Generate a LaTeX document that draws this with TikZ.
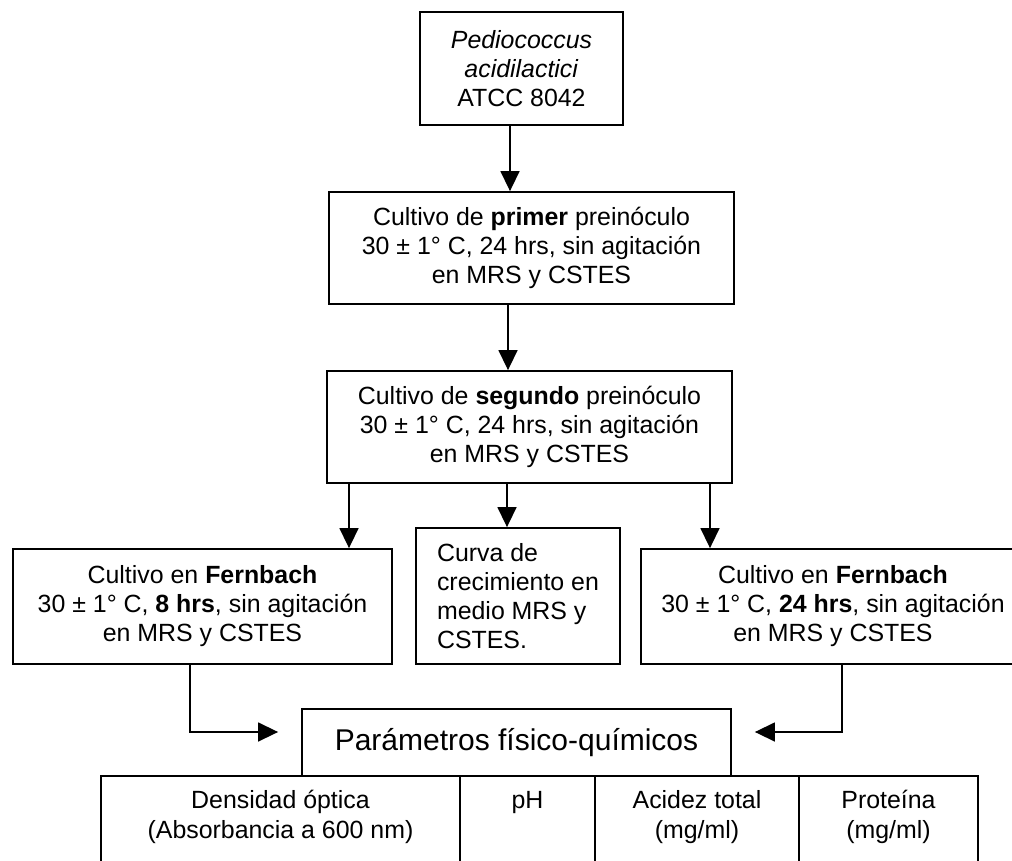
\documentclass[tikz,border=0pt]{standalone}
\usepackage{fontspec}
\setmainfont{Liberation Sans}
\usetikzlibrary{arrows.meta}
\tikzset{
  box/.style={draw, line width=1.8pt, align=center, inner sep=0pt,
    font=\fontsize{24.9}{29}\selectfont},
  cellbox/.style={draw, line width=1.8pt, inner sep=0pt},
  celltext/.style={align=center, inner sep=0pt, font=\fontsize{24.9}{30}\selectfont},
  conn/.style={line width=1.5pt, -{Triangle[length=20pt,width=19pt]}},
}
\begin{document}
\begin{tikzpicture}[x=1pt,y=-1pt]
\clip (0,0) rectangle (1012,861);
\fill[white] (0,0) rectangle (1012,861);

% boxes
\node[box, minimum width=203pt, minimum height=113pt] (src) at (521.5,68.5)
  {\textit{Pediococcus}\\\textit{acidilactici}\\ATCC 8042};
\node[box, minimum width=405pt, minimum height=112pt] (pre1) at (531.5,248)
  {Cultivo de \textbf{primer} preinóculo\\30 ± 1° C, 24 hrs, sin agitación\\en MRS y CSTES};
\node[box, minimum width=405pt, minimum height=112pt] (pre2) at (529.5,427)
  {Cultivo de \textbf{segundo} preinóculo\\30 ± 1° C, 24 hrs, sin agitación\\en MRS y CSTES};
\node[box, minimum width=379pt, minimum height=115pt] (f8) at (202.5,606.5)
  {Cultivo en \textbf{Fernbach}\\30 ± 1° C, \textbf{8 hrs}, sin agitación\\en MRS y CSTES};
\node[box, align=left, minimum width=204pt, minimum height=136pt] (curva) at (518,596)
  {Curva de\\crecimiento en\\medio MRS y\\CSTES.};
\node[box, minimum width=384pt, minimum height=115pt] (f24) at (833,606.5)
  {Cultivo en \textbf{Fernbach}\\30 ± 1° C, \textbf{24 hrs}, sin agitación\\en MRS y CSTES};
\node[box, font=\fontsize{30}{34}\selectfont, minimum width=429pt, minimum height=67pt] (param) at (516.5,742.5)
  {Parámetros físico-químicos};

% table
\node[cellbox, minimum width=359pt, minimum height=124pt] (c1) at (280.5,838) {};
\node[cellbox, minimum width=135pt, minimum height=124pt] (c2) at (527.5,838) {};
\node[cellbox, minimum width=204pt, minimum height=124pt] (c3) at (697,838) {};
\node[cellbox, minimum width=179pt, minimum height=124pt] (c4) at (888.5,838) {};
\path (c1.north) ++(0,42) node[celltext] (t1) {Densidad óptica\\(Absorbancia a 600 nm)};
\path (c2.north) ++(0,27) node[celltext] (t2) {pH};
\path (c3.north) ++(0,42) node[celltext] (t3) {Acidez total\\(mg/ml)};
\path (c4.north) ++(0,42) node[celltext] (t4) {Proteína\\(mg/ml)};

% connector positions
\coordinate (xa) at (510,0);
\coordinate (xb) at (508,0);
\coordinate (xl) at (349,0);
\coordinate (xm) at (507,0);
\coordinate (xr) at (710,0);
\coordinate (xfl) at (190,0);
\coordinate (xfr) at (842,0);
\coordinate (ya) at (0,732);

\draw[conn] (src.south -| xa) -- (pre1.north -| xa);
\draw[conn] (pre1.south -| xb) -- (pre2.north -| xb);
\draw[conn] (pre2.south -| xl) -- (f8.north -| xl);
\draw[conn] (pre2.south -| xm) -- (curva.north -| xm);
\draw[conn] (pre2.south -| xr) -- (f24.north -| xr);
\draw[conn] (f8.south -| xfl) |- ([xshift=-23pt]param.west |- ya);
\draw[conn] (f24.south -| xfr) |- ([xshift=23pt]param.east |- ya);
\end{tikzpicture}
\end{document}
